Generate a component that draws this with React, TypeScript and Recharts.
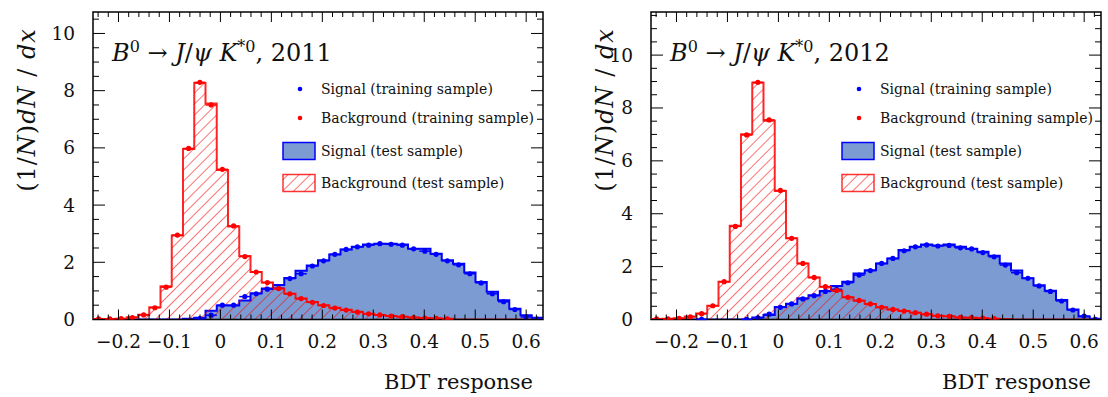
import React from 'react';
import { ComposedChart, Area, Scatter, XAxis, YAxis, ErrorBar, ReferenceArea } from 'recharts';

// ---------------- data ----------------
const X_MIN = -0.25;
const X_MAX = 0.633;
const N_BINS = 40;

const xMajorTicks = [-0.2, -0.1, 0, 0.1, 0.2, 0.3, 0.4, 0.5, 0.6];
const yMajorTicks = [0, 2, 4, 6, 8, 10];
const Y_MAX_2011 = 10.75;
const Y_MAX_2012 = 11.63;

const legendLabels = [
  'Signal (training sample)',
  'Background (training sample)',
  'Signal (test sample)',
  'Background (test sample)',
];

// 2011 ----------------------------------------------------------
const sig2011Test = [
  0, 0, 0, 0, 0, 0, 0, 0, 0.03, 0.06,
  0.31, 0.49, 0.49, 0.66, 0.92, 1.08, 1.21, 1.45, 1.7, 1.89,
  2.07, 2.27, 2.45, 2.54, 2.62, 2.65, 2.65, 2.62, 2.47, 2.47,
  2.3, 2.07, 1.95, 1.64, 1.31, 0.97, 0.67, 0.38, 0.15, 0.06,
];
const sig2011Train = [
  null, null, null, null, null, null, null, null, null, 0.03,
  0.15, 0.5, 0.5, 0.8, 0.9, 1.06, 1.09, 1.43, 1.6, 1.87,
  2.05, 2.28, 2.45, 2.54, 2.6, 2.65, 2.63, 2.6, 2.47, 2.39,
  2.28, 2.05, 1.91, 1.6, 1.28, 0.9, 0.62, 0.35, 0.09, 0.015,
];
const bkg2011Test = [
  0.02, 0.02, 0.03, 0.08, 0.17, 0.43, 1.16, 2.94, 5.96, 8.27,
  7.55, 5.23, 3.25, 2.22, 1.66, 1.29, 1.08, 0.9, 0.73, 0.61,
  0.5, 0.41, 0.34, 0.27, 0.2, 0.16, 0.12, 0.1, 0.07, 0.05,
  0.04, 0.03, 0, 0, 0, 0, 0, 0, 0, 0,
];
const bkg2011Train = [
  0.02, 0.02, 0.03, 0.07, 0.16, 0.41, 1.13, 2.95, 5.98, 8.29,
  7.5, 5.25, 3.27, 2.2, 1.66, 1.29, 1.08, 0.9, 0.73, 0.6,
  0.49, 0.4, 0.33, 0.26, 0.2, 0.16, 0.12, 0.1, 0.07, 0.05,
  0.04, 0.02, null, null, null, null, null, null, null, null,
];

// 2012 ----------------------------------------------------------
const sig2012Test = [
  0, 0, 0, 0, 0, 0, 0, 0, 0, 0.08,
  0.17, 0.47, 0.6, 0.8, 0.92, 1.08, 1.27, 1.43, 1.74, 1.86,
  2.12, 2.31, 2.63, 2.75, 2.84, 2.8, 2.84, 2.75, 2.68, 2.56,
  2.41, 2.12, 1.85, 1.56, 1.3, 1.09, 0.74, 0.38, 0.11, 0.03,
];
const sig2012Train = [
  null, null, null, null, 0.005, null, null, null, 0.005, 0.06,
  0.2, 0.46, 0.59, 0.78, 0.9, 1.06, 1.14, 1.39, 1.68, 1.85,
  2.12, 2.31, 2.6, 2.75, 2.82, 2.78, 2.8, 2.71, 2.67, 2.53,
  2.37, 2.06, 1.77, 1.56, 1.27, 1.06, 0.7, 0.36, 0.13, 0.01,
];
const bkg2012Test = [
  0.02, 0.03, 0.05, 0.11, 0.23, 0.52, 1.43, 3.55, 7.01, 8.95,
  7.52, 4.86, 3.07, 2.12, 1.59, 1.24, 1.08, 0.84, 0.71, 0.59,
  0.46, 0.38, 0.32, 0.26, 0.2, 0.14, 0.12, 0.08, 0.07, 0.05,
  0.03, 0.02, 0, 0, 0, 0, 0, 0, 0, 0,
];
const bkg2012Train = [
  0.02, 0.02, 0.04, 0.1, 0.22, 0.52, 1.43, 3.52, 6.98, 8.97,
  7.55, 4.88, 3.07, 2.12, 1.59, 1.24, 1.1, 0.84, 0.72, 0.59,
  0.46, 0.38, 0.32, 0.26, 0.2, 0.14, 0.12, 0.08, 0.07, 0.05,
  0.03, null, null, null, null, null, null, null, null, null,
];

// ---------------- helpers ----------------
const BIN_W = (X_MAX - X_MIN) / N_BINS;

function histOutline(vals: number[]) {
  const pts: { x: number; y: number }[] = [{ x: X_MIN, y: 0 }];
  vals.forEach((v, i) => pts.push({ x: X_MIN + i * BIN_W, y: v }));
  pts.push({ x: X_MAX, y: vals[vals.length - 1] });
  pts.push({ x: X_MAX, y: 0 });
  return pts;
}

function trainPoints(vals: (number | null)[]) {
  const out: { x: number; y: number; ex: number }[] = [];
  vals.forEach((v, i) => {
    if (v !== null) out.push({ x: X_MIN + (i + 0.5) * BIN_W, y: v, ex: BIN_W / 2 });
  });
  return out;
}

function rangeTicks(lo: number, hi: number, step: number) {
  const t: number[] = [];
  for (let v = lo; v <= hi + 1e-9; v += step) t.push(Math.round(v * 1000) / 1000);
  return t;
}

const xAllTicks = rangeTicks(-0.24, 0.62, 0.02);

const isMajor = (v: number, majors: number[]) => majors.some((m) => Math.abs(m - v) < 1e-6);

const fmtX = (v: number) => {
  if (Math.abs(v) < 1e-9) return '0';
  return v < 0 ? '\u2212' + Math.abs(v).toFixed(1) : v.toFixed(1);
};

const FONT = '"DejaVu Serif", serif';
const BLUE = '#0000ff';
const RED = '#ff0000';
const SIG_FILL = '#7b9bd2';

const TOP = 12;
const PLOT_H = 307.5;
const PLOT_W = 450;
const CHART_W = 554;
const CHART_H = 397;
const HATCH = 7.8;

function makeXTick() {
  return (props: any) => {
    const { x, y, payload } = props;
    const v = payload.value as number;
    const major = isMajor(v, xMajorTicks);
    const len = major ? 10 : 5;
    return (
      <g>
        <line x1={x} y1={y} x2={x} y2={y - len} stroke="#000" strokeWidth={1} />
        <line x1={x} y1={y - PLOT_H} x2={x} y2={y - PLOT_H + len} stroke="#000" strokeWidth={1} />
        {major && (
          <text x={x} y={y + 22} textAnchor="middle" dominantBaseline="central"
            fontFamily={FONT} fontSize={18.5} fill="#111">{fmtX(v)}</text>
        )}
      </g>
    );
  };
}

function makeYTick() {
  return (props: any) => {
    const { x, y, payload } = props;
    const v = payload.value as number;
    const major = isMajor(v, yMajorTicks);
    const len = major ? 12 : 6;
    return (
      <g>
        <line x1={x} y1={y} x2={x + len} y2={y} stroke="#000" strokeWidth={1} />
        <line x1={x + PLOT_W} y1={y} x2={x + PLOT_W - len} y2={y} stroke="#000" strokeWidth={1} />
        {major && (
          <text x={x - 18} y={y} textAnchor="end" dominantBaseline="central"
            fontFamily={FONT} fontSize={18.5} fill="#111">{String(v)}</text>
        )}
      </g>
    );
  };
}

type PanelProps = {
  id: string;
  year: string;
  left: number;
  marginLeft: number;
  marginRight: number;
  yMax: number;
  legendShift: number;
  ytitleX: number;
  sigTest: number[];
  sigTrain: (number | null)[];
  bkgTest: number[];
  bkgTrain: (number | null)[];
};

function Panel(p: PanelProps) {
  const yAll = rangeTicks(0, Math.floor(p.yMax * 2) / 2, 0.5);
  const plotLeft = p.left + p.marginLeft + 50;
  const plotRight = plotLeft + PLOT_W;
  const hatchId = 'hatch' + p.id;
  const dot = (color: string) => (sp: any) => <circle cx={sp.cx} cy={sp.cy} r={2.6} fill={color} />;
  const rowY = [89, 118, 151, 183];
  const legX = plotLeft + 190 + p.legendShift;
  return (
    <>
      <div style={{ position: 'absolute', left: p.left, top: 0 }}>
        <ComposedChart width={CHART_W} height={CHART_H}
          margin={{ top: TOP, left: p.marginLeft, right: p.marginRight, bottom: CHART_H - TOP - PLOT_H - 30 }}>
          <defs>
            <pattern id={hatchId} patternUnits="userSpaceOnUse" width={HATCH} height={HATCH} patternTransform="rotate(45)">
              <line x1={0} y1={0} x2={0} y2={HATCH} stroke={RED} strokeWidth={1.1} />
            </pattern>
          </defs>
          <XAxis dataKey="x" type="number" domain={[X_MIN, X_MAX]} allowDataOverflow ticks={xAllTicks}
            interval={0} tickSize={0} tickMargin={0} tickLine={false} axisLine={false} height={30}
            tick={makeXTick()} />
          <YAxis type="number" domain={[0, p.yMax]} allowDataOverflow ticks={yAll} interval={0}
            tickSize={0} tickMargin={0} tickLine={false} axisLine={false} width={50} tick={makeYTick()} />
          <Area data={histOutline(p.sigTest)} dataKey="y" type="stepAfter" stroke={BLUE} strokeWidth={2}
            fill={SIG_FILL} fillOpacity={1} isAnimationActive={false} dot={false} activeDot={false} />
          <Area data={histOutline(p.bkgTest)} dataKey="y" type="stepAfter" stroke={RED} strokeWidth={2}
            strokeOpacity={0.85} fill={`url(#${hatchId})`} fillOpacity={1} isAnimationActive={false}
            dot={false} activeDot={false} />
          <Scatter data={trainPoints(p.sigTrain)} dataKey="y" fill={BLUE} shape={dot(BLUE)} isAnimationActive={false}>
            <ErrorBar dataKey="ex" direction="x" width={0} stroke={BLUE} strokeWidth={1.5} />
          </Scatter>
          <Scatter data={trainPoints(p.bkgTrain)} dataKey="y" fill={RED} shape={dot(RED)} isAnimationActive={false}>
            <ErrorBar dataKey="ex" direction="x" width={0} stroke={RED} strokeWidth={1.5} />
          </Scatter>
          <ReferenceArea x1={X_MIN} x2={X_MAX} y1={0} y2={p.yMax} fill="none" fillOpacity={0}
            stroke="#000" strokeWidth={1.5} ifOverflow="visible" />
        </ComposedChart>
      </div>
      {/* title */}
      <div style={{ position: 'absolute', left: plotLeft + 19, top: 34, fontFamily: FONT, fontSize: 24,
        lineHeight: '26px', whiteSpace: 'nowrap', color: '#111' }}>
        <i>B</i><sup style={{ fontSize: 16 }}>0</sup> {'\u2192'} <i>J</i>/<i>{'\u03c8'}</i> <i>K</i>
        <sup style={{ fontSize: 16 }}><i>*</i>0</sup>, {p.year}
      </div>
      {/* y title */}
      <div style={{ position: 'absolute', left: p.ytitleX, top: 110,
        transform: 'translate(-50%, -50%) rotate(-90deg)', fontFamily: FONT, fontSize: 24,
        whiteSpace: 'nowrap', color: '#111', letterSpacing: 1 }}>
        (1/<i>N</i>)<i>dN</i> / <i>dx</i>
      </div>
      {/* x title */}
      <div style={{ position: 'absolute', left: plotRight - 10, top: 382,
        transform: 'translate(-100%, -50%)', fontFamily: FONT, fontSize: 21,
        whiteSpace: 'nowrap', color: '#111' }}>
        BDT response
      </div>
      {/* legend */}
      {legendLabels.map((lab, i) => (
        <div key={lab} style={{ position: 'absolute', left: legX, top: rowY[i] - 10,
          height: 20, display: 'flex', alignItems: 'center', fontFamily: FONT, fontSize: 14,
          whiteSpace: 'nowrap', color: '#111' }}>
          <svg width={38} height={20} style={{ display: 'block', marginRight: 5 }}>
            {i === 0 && <circle cx={22} cy={10} r={2.3} fill={BLUE} />}
            {i === 1 && <circle cx={22} cy={10} r={2.3} fill={RED} />}
            {i === 2 && <rect x={5} y={1.5} width={32} height={17} fill={SIG_FILL} stroke={BLUE} strokeWidth={1.5} />}
            {i === 3 && (
              <g>
                <defs>
                  <pattern id={'leg' + hatchId} patternUnits="userSpaceOnUse" width={HATCH} height={HATCH} patternTransform="rotate(45)">
                    <line x1={0} y1={0} x2={0} y2={HATCH} stroke={RED} strokeWidth={1.1} />
                  </pattern>
                </defs>
                <rect x={5} y={1.5} width={32} height={17} fill={`url(#leg${hatchId})`} stroke={RED} strokeWidth={1.5} strokeOpacity={0.8} />
              </g>
            )}
          </svg>
          <span>{lab}</span>
        </div>
      ))}
    </>
  );
}

export default function App() {
  return (
    <div style={{ position: 'absolute', left: 0, top: 0, width: 1108, height: 397, background: '#fff', overflow: 'hidden' }}>
      <Panel id="a" year="2011" left={0} marginLeft={43} marginRight={11} yMax={Y_MAX_2011}
        legendShift={-5} ytitleX={27}
        sigTest={sig2011Test} sigTrain={sig2011Train} bkgTest={bkg2011Test} bkgTrain={bkg2011Train} />
      <Panel id="b" year="2012" left={554} marginLeft={47} marginRight={7} yMax={Y_MAX_2012}
        legendShift={-4} ytitleX={605}
        sigTest={sig2012Test} sigTrain={sig2012Train} bkgTest={bkg2012Test} bkgTrain={bkg2012Train} />
    </div>
  );
}
